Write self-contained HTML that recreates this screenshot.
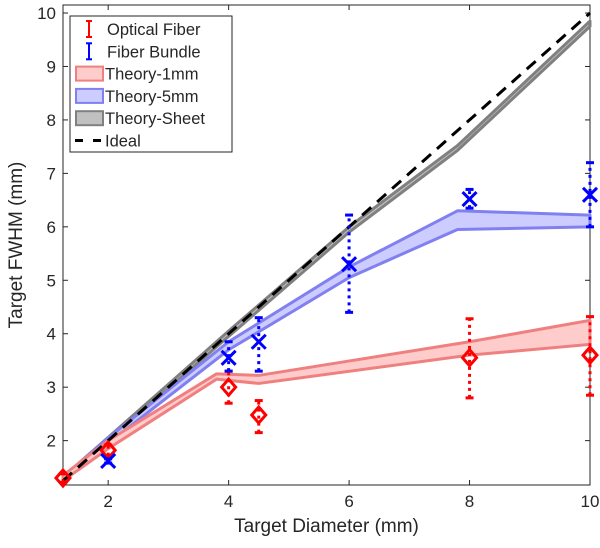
<!DOCTYPE html>
<html><head><meta charset="utf-8"><style>
body{margin:0;background:#fff;font-family:"Liberation Sans",sans-serif}
svg text{font-family:"Liberation Sans",sans-serif;fill:#262626}
</style></head><body>
<svg id="c" width="600" height="543" xmlns="http://www.w3.org/2000/svg"></svg>
<script>
const xTicks=[2,4,6,8,10];
const yTicks=[2,3,4,5,6,7,8,9,10];
const optX=[1.25,2,4,4.5,8,10];
const optY=[1.3,1.82,3.0,2.48,3.55,3.6];
const optLo=[1.22,1.72,2.7,2.15,2.8,2.85];
const optHi=[1.38,1.92,3.3,2.75,4.28,4.32];
const bunX=[2,4,4.5,6,8,10];
const bunY=[1.62,3.55,3.85,5.3,6.52,6.6];
const bunLo=[1.58,3.3,3.3,4.4,6.35,6.0];
const bunHi=[1.66,3.85,4.3,6.22,6.7,7.2];
const t1X=[1.25,2,3.8,4.5,8,10];
const t1Lo=[1.25,1.85,3.15,3.07,3.6,3.8];
const t1Hi=[1.35,2.0,3.25,3.22,3.85,4.25];
const t5X=[1.25,2,4,6,7.8,10];
const t5Lo=[1.25,1.95,3.7,5.05,5.95,6.0];
const t5Hi=[1.32,2.05,3.85,5.25,6.3,6.22];
const tsX=[1.25,2,4,6,7.8,10];
const tsLo=[1.25,2.0,3.95,5.9,7.43,9.75];
const tsHi=[1.32,2.06,4.05,6.0,7.52,9.85];
const idealX=[1.25,10];
const idealY=[1.25,10];

const L=63,R=590,T=5,B=485,XMIN=1.25,XMAX=10,YMIN=1.17,YMAX=10.15;
const sx=v=>L+(v-XMIN)/(XMAX-XMIN)*(R-L);
const sy=v=>B-(v-YMIN)/(YMAX-YMIN)*(B-T);
const svg=document.getElementById('c');
const NS='http://www.w3.org/2000/svg';
function mk(tag,attrs,parent){const e=document.createElementNS(NS,tag);for(const k in attrs)e.setAttribute(k,attrs[k]);(parent||svg).appendChild(e);return e;}

// axes box
const box=mk('rect',{x:L,y:T,width:R-L,height:B-T,fill:'none',stroke:'#262626','stroke-width':1});


xTicks.forEach(t=>{
  const l=mk('line',{x1:sx(t),x2:sx(t),y1:B,y2:B-5,stroke:'#262626'});
  
  
  mk('line',{x1:sx(t),x2:sx(t),y1:T,y2:T+5,stroke:'#262626'});
  const tx=mk('text',{x:sx(t),y:B+22,'font-size':17,'text-anchor':'middle'});tx.textContent=t;
  
  
});
yTicks.forEach(t=>{
  const l=mk('line',{x1:L,x2:L+5,y1:sy(t),y2:sy(t),stroke:'#262626'});
  
  
  mk('line',{x1:R,x2:R-5,y1:sy(t),y2:sy(t),stroke:'#262626'});
  const tx=mk('text',{x:L-7,y:sy(t)+6,'font-size':17,'text-anchor':'end'});tx.textContent=t;
  
  
});
const xt=mk('text',{x:(L+R)/2,y:532,'font-size':19,'text-anchor':'middle'});xt.textContent='Target Diameter (mm)';


const yt=mk('text',{x:0,y:0,'font-size':19,'text-anchor':'middle',transform:`translate(22,${(T+B)/2}) rotate(-90)`});yt.textContent='Target FWHM (mm)';



function band(xs,lo,hi,fill,stroke,name){
  let d='M'+xs.map((x,i)=>sx(x)+','+sy(hi[i])).join('L');
  d+='L'+xs.map((x,i)=>sx(x)+','+sy(lo[i])).reverse().join('L')+'Z';
  const p=mk('path',{d,fill,stroke,'stroke-width':3,'stroke-linejoin':'round'});
  
  
}
band(tsX,tsLo,tsHi,'#c0c0c0','#808080','theory-sheet-band');
band(t5X,t5Lo,t5Hi,'#ccccff','#8080f0','theory-5mm-band');
band(t1X,t1Lo,t1Hi,'#ffcccc','#f08080','theory-1mm-band');
const il=mk('line',{x1:sx(idealX[0]),y1:sy(idealY[0]),x2:sx(idealX[1]),y2:sy(idealY[1]),stroke:'#000','stroke-width':3,'stroke-dasharray':'12 8'});



function errs(xs,ys,lo,hi,col,marker,name){
  xs.forEach((x,i)=>{
    const g=mk('g',{});
    
    
    const X=sx(x);
    mk('line',{x1:X,x2:X,y1:sy(lo[i]),y2:sy(hi[i]),stroke:col,'stroke-width':3,'stroke-dasharray':'3 4'},g);
    [lo[i],hi[i]].forEach(v=>mk('line',{x1:X-4,x2:X+4,y1:sy(v),y2:sy(v),stroke:col,'stroke-width':3},g));
    const Y=sy(ys[i]);
    if(marker==='d') mk('path',{d:`M${X},${Y-8}L${X+7},${Y}L${X},${Y+8}L${X-7},${Y}Z`,fill:'none',stroke:col,'stroke-width':3},g);
    else mk('path',{d:`M${X-7},${Y-7}L${X+7},${Y+7}M${X+7},${Y-7}L${X-7},${Y+7}`,stroke:col,'stroke-width':3},g);
  });
}
errs(optX,optY,optLo,optHi,'#ff0000','d','optical-fiber-point');
errs(bunX,bunY,bunLo,bunHi,'#0000ff','x','fiber-bundle-point');

// legend
const lg=mk('g',{});


mk('rect',{x:70,y:16,width:162,height:136,fill:'#fff',stroke:'#262626'},lg);
const items=[['Optical Fiber','e','#ff0000'],['Fiber Bundle','e','#0000ff'],['Theory-1mm','b','#ffcccc','#f08080'],['Theory-5mm','b','#ccccff','#8080f0'],['Theory-Sheet','b','#c0c0c0','#808080'],['Ideal','l','#000']];
items.forEach((it,i)=>{
  const g=mk('g',{},lg);
  
  
  const cy=29+i*22.3;
  if(it[1]==='e'){mk('line',{x1:89,x2:89,y1:cy-8,y2:cy+8,stroke:it[2],'stroke-width':2},g);mk('line',{x1:86,x2:92,y1:cy-8,y2:cy-8,stroke:it[2],'stroke-width':2},g);mk('line',{x1:86,x2:92,y1:cy+8,y2:cy+8,stroke:it[2],'stroke-width':2},g);}
  else if(it[1]==='b') mk('rect',{x:76,y:cy-7,width:27,height:14,fill:it[2],stroke:it[3],'stroke-width':2},g);
  else mk('line',{x1:75,x2:103,y1:cy,y2:cy,stroke:'#000','stroke-width':3,'stroke-dasharray':'8 10'},g);
  const t=mk('text',{x:i<2?107:105,y:cy+6,'font-size':16.5},g);t.textContent=it[0];
});
</script>
</body></html>
